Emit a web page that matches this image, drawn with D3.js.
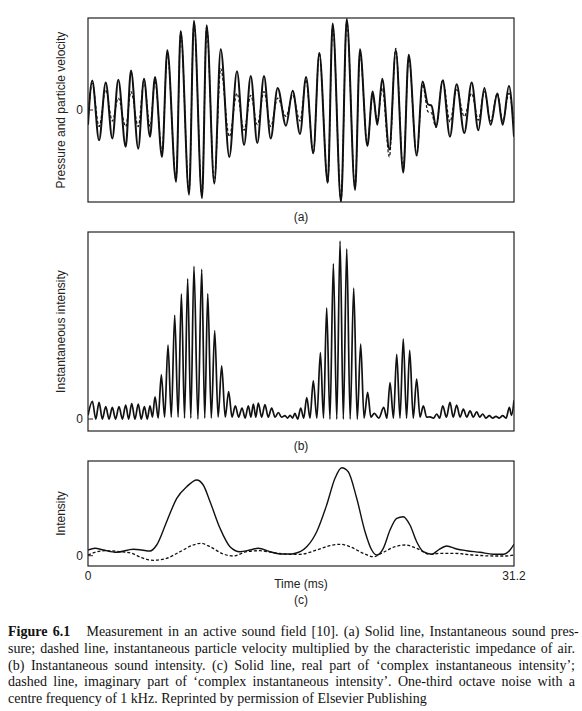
<!DOCTYPE html>
<html>
<head>
<meta charset="utf-8">
<script src="https://cdn.jsdelivr.net/npm/d3@7"></script>
<style>
  body { margin: 0; background: #fff; }
  svg { display: block; }
  .lbl { font-family: "Liberation Sans", Arial, sans-serif; font-size: 12px; fill: #222; }
  .cap { font-family: "Liberation Serif", "Times New Roman", serif; font-size: 14px; fill: #111; }
</style>
</head>
<body>
<svg id="fig" width="582" height="711"></svg>
<script>
// time axis (ms)
const timeTicks = [0, 31.2];

// (a) pressure (solid) and particle velocity * rho c (dashed), extrema
const pressure = [
  [0, -0.16], [0.31, 0.32], [0.81, -0.33], [1.30, 0.30], [1.78, -0.31], [2.22, 0.33],
  [2.76, -0.40], [3.15, 0.43], [3.68, -0.42], [4.10, 0.34], [4.54, -0.29], [4.91, 0.36],
  [5.42, -0.51], [5.81, 0.65], [6.45, -0.78], [6.79, 0.86], [7.40, -0.92], [7.76, 0.97],
  [8.35, -0.96], [8.69, 0.92], [9.25, -0.80], [9.72, 0.66], [10.35, -0.51], [10.91, 0.42],
  [11.43, -0.38], [11.92, 0.37], [12.40, -0.36], [12.89, 0.37], [13.38, -0.31], [13.89, 0.24],
  [14.50, -0.17], [14.99, 0.21], [15.53, -0.26], [15.97, 0.36], [16.50, -0.47], [16.94, 0.62],
  [17.56, -0.79], [17.92, 0.94], [18.53, -1.00], [18.95, 0.99], [19.56, -0.87], [19.92, 0.66],
  [20.46, -0.39], [20.85, 0.20], [21.19, -0.16], [21.55, 0.34], [22.07, -0.43], [22.54, 0.65],
  [23.09, -0.68], [23.49, 0.60], [24.07, -0.49], [24.51, 0.31], [24.90, 0.06], [25.15, 0.05],
  [25.49, -0.18], [25.98, 0.32], [26.51, -0.29], [27.00, 0.28], [27.56, -0.25], [28.10, 0.30],
  [28.59, -0.22], [29.03, 0.24], [29.49, -0.16], [29.98, 0.18], [30.37, -0.16], [30.83, 0.26],
  [31.2, -0.29]
];
const velocity = [
  [0, -0.11], [0.31, 0.29], [0.81, -0.18], [1.30, 0.22], [1.78, -0.12], [2.22, 0.13],
  [2.76, -0.18], [3.15, 0.20], [3.68, -0.18], [4.10, 0.31], [4.54, -0.18], [4.91, 0.32],
  [5.42, -0.46], [5.81, 0.62], [6.45, -0.76], [6.79, 0.85], [7.40, -0.90], [7.76, 0.95],
  [8.35, -0.94], [8.69, 0.90], [9.25, -0.78], [9.72, 0.45], [10.35, -0.29], [10.91, 0.18],
  [11.43, -0.22], [11.92, 0.16], [12.40, -0.16], [12.89, 0.20], [13.38, -0.18], [13.89, 0.13],
  [14.50, -0.07], [14.99, 0.16], [15.53, -0.12], [15.97, 0.33], [16.50, -0.47], [16.94, 0.62],
  [17.56, -0.79], [17.92, 0.92], [18.53, -0.98], [18.95, 0.97], [19.56, -0.85], [19.92, 0.62],
  [20.46, -0.37], [20.85, 0.16], [21.19, -0.11], [21.55, 0.24], [22.07, -0.51], [22.54, 0.67],
  [23.09, -0.65], [23.49, 0.58], [24.07, -0.50], [24.51, 0.28], [24.90, -0.02], [25.15, -0.03],
  [25.49, -0.19], [25.98, 0.33], [26.51, -0.13], [27.00, 0.22], [27.56, -0.07], [28.10, 0.18],
  [28.59, -0.11], [29.03, 0.20], [29.49, -0.12], [29.98, 0.18], [30.37, -0.12], [30.83, 0.18],
  [31.2, -0.18]
];

// (b) instantaneous intensity, peaks and troughs
const instIntensity = [
  [0, 0.02], [0.32, 0.094], [0.57, 0], [0.81, 0.089], [1.05, 0], [1.30, 0.066], [1.54, 0],
  [1.78, 0.062], [2.02, 0], [2.27, 0.066], [2.52, 0], [2.76, 0.074], [2.98, 0], [3.20, 0.083],
  [3.44, 0], [3.68, 0.080], [3.90, 0], [4.13, 0.066], [4.34, 0], [4.54, 0.071], [4.72, 0.01],
  [4.91, 0.119], [5.14, 0.005], [5.37, 0.236], [5.61, 0.01], [5.86, 0.395], [6.10, 0.01],
  [6.35, 0.555], [6.60, 0.01], [6.84, 0.669], [7.07, 0.005], [7.30, 0.75], [7.53, 0.005],
  [7.76, 0.816], [8.05, 0], [8.33, 0.80], [8.55, 0.005], [8.77, 0.67], [9.03, 0.005],
  [9.28, 0.473], [9.53, 0.01], [9.79, 0.284], [10.05, 0.01], [10.30, 0.147], [10.55, 0.01],
  [10.79, 0.071], [11.03, 0.01], [11.28, 0.059], [11.51, 0.005], [11.74, 0.071], [11.93, 0.01],
  [12.11, 0.08], [12.29, 0.01], [12.47, 0.085], [12.72, 0.01], [12.96, 0.077], [13.20, 0.01],
  [13.45, 0.059], [13.70, 0.01], [13.94, 0.035], [14.18, 0.01], [14.43, 0.018], [14.62, 0.005],
  [14.80, 0.02], [14.98, 0.005], [15.15, 0.03], [15.36, 0], [15.58, 0.059], [15.80, 0.005],
  [16.02, 0.115], [16.26, 0.005], [16.50, 0.204], [16.76, 0.005], [17.02, 0.355], [17.25, 0.005],
  [17.48, 0.594], [17.72, 0], [17.97, 0.83], [18.22, 0], [18.46, 0.952], [18.70, 0],
  [18.95, 0.91], [19.20, 0], [19.46, 0.70], [19.72, 0], [19.97, 0.40], [20.22, 0.005],
  [20.48, 0.142], [20.72, 0.01], [20.97, 0.03], [21.30, 0.005], [21.66, 0.062], [21.89, 0.005],
  [22.12, 0.195], [22.37, 0.005], [22.61, 0.346], [22.85, 0.005], [23.09, 0.429], [23.33, 0.005],
  [23.56, 0.367], [23.82, 0.005], [24.07, 0.213], [24.32, 0.01], [24.56, 0.071], [24.80, 0.01],
  [25.05, 0.012], [25.30, 0.005], [25.54, 0.027], [25.76, 0.005], [25.98, 0.071], [26.25, 0.01],
  [26.51, 0.089], [26.75, 0.01], [27.00, 0.074], [27.25, 0.01], [27.49, 0.053], [27.74, 0.01],
  [27.98, 0.044], [28.22, 0.01], [28.47, 0.039], [28.69, 0.01], [28.91, 0.027], [29.15, 0.005],
  [29.39, 0.018], [29.63, 0.005], [29.88, 0.014], [30.12, 0.005], [30.37, 0.018], [30.62, 0.005],
  [30.86, 0.062], [31.02, 0.02], [31.2, 0.10]
];

// (c) complex instantaneous intensity: real (solid) and imaginary (dashed) parts
const activeIntensity = [
  [0, 0.057], [0.51, 0.074], [1.12, 0.057], [2.10, 0.034], [3.32, 0.064], [3.93, 0.057],
  [4.54, 0.047], [5.03, 0.107], [5.76, 0.34], [6.50, 0.574], [7.23, 0.69], [7.96, 0.757],
  [8.44, 0.707], [8.94, 0.54], [9.67, 0.274], [10.40, 0.09], [11.13, 0.04], [11.87, 0.057],
  [12.47, 0.074], [13.33, 0.04], [14.06, 0.017], [14.79, 0.017], [15.04, 0.02], [16.02, 0.09],
  [16.75, 0.24], [17.48, 0.507], [18.09, 0.774], [18.58, 0.88], [19.06, 0.84], [19.68, 0.574],
  [20.29, 0.24], [20.78, 0.057], [21.14, 0.007], [21.63, 0.074], [22.12, 0.257], [22.61, 0.374],
  [23.09, 0.39], [23.58, 0.307], [24.07, 0.14], [24.56, 0.04], [25.17, 0.014], [25.66, 0.057],
  [26.27, 0.097], [27.00, 0.067], [27.74, 0.05], [28.71, 0.034], [29.68, 0.014], [30.42, 0.014],
  [30.91, 0.057], [31.2, 0.114]
];
const reactiveIntensity = [
  [0, 0.007], [0.51, 0.034], [1.37, 0.05], [2.34, 0.04], [3.20, 0.024], [3.93, -0.02],
  [4.78, -0.046], [5.76, -0.026], [6.74, 0.04], [7.71, 0.107], [8.25, 0.124], [8.94, 0.09],
  [9.91, 0.017], [10.64, -0.003], [11.62, 0.04], [12.60, 0.05], [13.57, 0.03], [14.79, 0.014],
  [15.53, 0.014], [16.75, 0.057], [17.72, 0.10], [18.46, 0.114], [19.19, 0.09], [20.16, 0.024],
  [20.90, -0.01], [21.63, 0.034], [22.48, 0.09], [23.22, 0.107], [24.07, 0.074], [25.05, 0.014],
  [25.78, 0.024], [26.75, 0.024], [28.22, 0.007], [29.68, -0.003], [30.67, -0.003], [31.2, 0.007]
];

const captionLines = [
  ['Figure 6.1', '   Measurement in an active sound field [10]. (a) Solid line, Instantaneous sound pres-'],
  ['', 'sure; dashed line, instantaneous particle velocity multiplied by the characteristic impedance of air.'],
  ['', '(b) Instantaneous sound intensity. (c) Solid line, real part of \u2018complex instantaneous intensity\u2019;'],
  ['', 'dashed line, imaginary part of \u2018complex instantaneous intensity\u2019. One-third octave noise with a'],
  ['', 'centre frequency of 1 kHz. Reprinted by permission of Elsevier Publishing']
];

const svg = d3.select('#fig');
const left = 88;
const right = 514;

const x = d3.scaleLinear().domain([0, 31.2]).range([left, right]);

const panels = [
  {
    id: 'a', top: 18, bottom: 202, domain: [-1, 1], ylabel: 'Pressure and particle velocity',
    tag: '(a)', tagY: 221,
    series: [
      { data: pressure, width: 2, dash: null },
      { data: velocity, width: 1.2, dash: '3,2' }
    ]
  },
  {
    id: 'b', top: 232, bottom: 431, domain: [-0.064, 1], ylabel: 'Instantaneous intensity',
    tag: '(b)', tagY: 450,
    series: [{ data: instIntensity, width: 1.7, dash: null }]
  },
  {
    id: 'c', top: 461, bottom: 566, domain: [-0.103, 0.947], ylabel: 'Intensity',
    tag: '(c)', tagY: 604,
    series: [
      { data: activeIntensity, width: 1.4, dash: null },
      { data: reactiveIntensity, width: 1.3, dash: '3,2' }
    ]
  }
];

panels.forEach(p => {
  const y = d3.scaleLinear().domain(p.domain).range([p.bottom, p.top]);
  const g = svg.append('g').attr('class', `panel-${p.id}`);

  g.append('clipPath')
    .attr('id', `clip-${p.id}`)
    .append('rect')
    .attr('x', left).attr('y', p.top)
    .attr('width', right - left).attr('height', p.bottom - p.top);

  const line = d3.line()
    .x(d => x(d[0]))
    .y(d => y(d[1]))
    .curve(d3.curveMonotoneX);

  p.series.forEach(s => {
    g.append('path')
      .attr('clip-path', `url(#clip-${p.id})`)
      .attr('d', line(s.data))
      .attr('fill', 'none')
      .attr('stroke', '#111')
      .attr('stroke-width', s.width)
      .attr('stroke-dasharray', s.dash)
      .attr('stroke-linejoin', 'round');
  });

  // frame
  g.append('rect')
    .attr('x', left).attr('y', p.top)
    .attr('width', right - left).attr('height', p.bottom - p.top)
    .attr('fill', 'none')
    .attr('stroke', '#222')
    .attr('stroke-width', 1.2);

  // zero tick + label
  g.append('line')
    .attr('x1', left).attr('x2', left + 5)
    .attr('y1', y(0)).attr('y2', y(0))
    .attr('stroke', '#222');
  g.append('text')
    .attr('class', 'lbl')
    .attr('x', left - 5).attr('y', y(0) + 4)
    .attr('text-anchor', 'end')
    .text('0');

  g.append('text')
    .attr('class', 'lbl')
    .attr('transform', `translate(65,${(p.top + p.bottom) / 2}) rotate(-90)`)
    .attr('text-anchor', 'middle')
    .text(p.ylabel);

  g.append('text')
    .attr('class', 'lbl')
    .attr('x', (left + right) / 2).attr('y', p.tagY)
    .attr('text-anchor', 'middle')
    .text(p.tag);
});

// time axis labels under (c)
svg.selectAll('.tlabel')
  .data(timeTicks)
  .enter().append('text')
    .attr('class', 'lbl tlabel')
    .attr('x', d => x(d))
    .attr('y', 580)
    .attr('text-anchor', 'middle')
    .text(d => d);

svg.append('text')
  .attr('class', 'lbl')
  .attr('x', (left + right) / 2)
  .attr('y', 588)
  .attr('text-anchor', 'middle')
  .text('Time (ms)');

// caption, justified lines except the last
const capLeft = 8;
const capRight = 575;
captionLines.forEach(([bold, rest], i) => {
  const t = svg.append('text')
    .attr('class', 'cap')
    .attr('x', capLeft)
    .attr('y', 636 + i * 16.8)
    .attr('xml:space', 'preserve');
  if (bold) t.append('tspan').attr('font-weight', 'bold').text(bold);
  t.append('tspan').text(rest);
  if (i < captionLines.length - 1) {
    const w = t.node().getComputedTextLength();
    const spaces = ((bold + rest).trim().match(/ +/g) || []).length;
    if (spaces) t.style('word-spacing', `${(capRight - capLeft - w) / spaces}px`);
  }
});
</script>
</body>
</html>
